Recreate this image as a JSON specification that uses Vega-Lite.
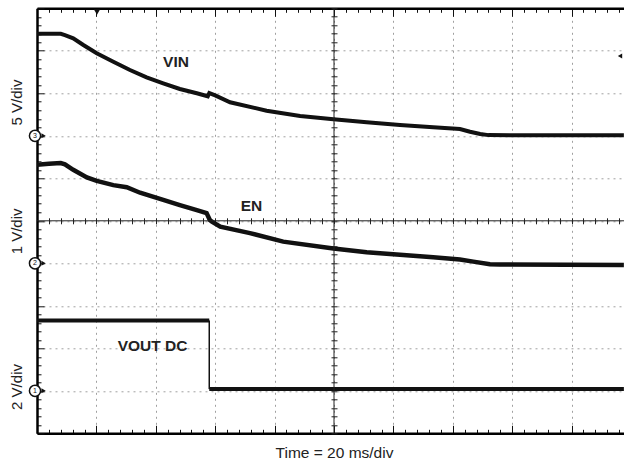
{
  "$schema": "https://vega.github.io/schema/vega-lite/v6.json",
  "width": 587,
  "height": 425,
  "autosize": "none",
  "padding": {"left": 37, "top": 8.3, "right": 0, "bottom": 30.7},
  "background": "white",
  "config": {"view": {"stroke": null}, "font": "Liberation Sans"},
  "resolve": {"scale": {"y": "independent"}, "axis": {"x": "independent", "y": "independent"}},
  "layer": [
    {
      "encoding": {
        "x": {"field": "t", "type": "quantitative", "scale": {"domain": [0, 197.64], "nice": false, "zero": false},
          "axis": {"orient": "bottom", "values": [0,4,8,12,16,20,24,28,32,36,40,44,48,52,56,60,64,68,72,76,80,84,88,92,96,100,104,108,112,116,120,124,128,132,136,140,144,148,152,156,160,164,168,172,176,180,184,188,192,196],
            "labels": false, "grid": true, "gridColor": "#a0a0a0", "gridDash": [2, 4], "gridWidth": 1,
            "gridOpacity": {"condition": {"test": "datum.value % 20 === 0", "value": 1}, "value": 0},
            "domain": true, "domainColor": "#000", "domainWidth": 2.5,
            "ticks": true, "tickColor": "#111", "tickWidth": 1,
            "tickSize": {"condition": {"test": "datum.value % 20 === 0", "value": -8}, "value": -4},
            "title": "Time = 20 ms/div", "titleFont": "Liberation Sans", "titleFontSize": 15.5, "titleFontWeight": "normal", "titleColor": "#222",
            "titleX": 297, "titleY": 24.5, "titleBaseline": "alphabetic", "titleAlign": "center"}},
        "y": {"field": "v", "type": "quantitative", "scale": {"domain": [-35, 15], "nice": false, "zero": false},
          "axis": {"orient": "left", "tickCount": 50, "labels": false, "grid": true, "gridColor": "#a0a0a0", "gridDash": [2, 4], "gridWidth": 1,
            "gridOpacity": {"condition": {"test": "datum.value % 5 === 0", "value": 1}, "value": 0},
            "domain": true, "domainColor": "#000", "domainWidth": 2.5,
            "ticks": true, "tickColor": "#111", "tickWidth": 1,
            "tickSize": {"condition": {"test": "datum.value % 5 === 0", "value": -7}, "value": -4},
            "title": null}}
      },
      "layer": [
        {"data": {"values": [{"t":0,"v":12.0},{"t":8.0,"v":12.0},{"t":9.4,"v":11.85},{"t":12.2,"v":11.47},{"t":15.6,"v":10.68},{"t":20.1,"v":9.71},{"t":25.7,"v":8.72},{"t":31.3,"v":7.74},{"t":36.9,"v":6.88},{"t":42.5,"v":6.18},{"t":48.1,"v":5.51},{"t":53.8,"v":5.0},{"t":57.5,"v":4.65},{"t":58.0,"v":5.02},{"t":60.0,"v":4.75},{"t":65.0,"v":3.95},{"t":77.3,"v":2.95},{"t":88.6,"v":2.33},{"t":99.8,"v":1.94},{"t":111.0,"v":1.59},{"t":122.2,"v":1.27},{"t":133.4,"v":1.0},{"t":142.4,"v":0.8},{"t":145.8,"v":0.48},{"t":149.2,"v":0.21},{"t":152.0,"v":0.08},{"t":197.6,"v":0.06}]},
         "mark": {"type": "line", "color": "#111", "strokeWidth": 4, "clip": true}},
        {"data": {"values": [{"t": 46.8, "v": 8.68, "label": "VIN"}]},
         "mark": {"type": "text", "font": "Liberation Sans", "fontSize": 15.5, "fontWeight": "bold", "color": "#222", "align": "center", "baseline": "middle"},
         "encoding": {"text": {"field": "label"}}},
        {"data": {"values": [{"t": -6.57, "v": 3.92, "label": "5 V/div"}]},
         "mark": {"type": "text", "font": "Liberation Sans", "fontSize": 15, "angle": 270, "color": "#222", "align": "center", "baseline": "middle"},
         "encoding": {"text": {"field": "label"}}},
        {"data": {"values": [{"t": 2.2, "v": 0}]},
         "mark": {"type": "point", "shape": "triangle-right", "size": 25, "filled": true, "color": "#111", "opacity": 1}},
        {"data": {"values": [{"t": -0.67, "v": 0}]},
         "mark": {"type": "point", "shape": "circle", "size": 125, "filled": true, "fill": "white", "stroke": "#111", "strokeWidth": 1.5, "opacity": 1}},
        {"data": {"values": [{"t": -0.67, "v": 0, "label": "3"}]},
         "mark": {"type": "text", "fontSize": 7, "color": "#111", "align": "center", "baseline": "middle"},
         "encoding": {"text": {"field": "label"}}},
        {"data": {"values": [{"t": 20.2, "v": 14.56}]},
         "mark": {"type": "point", "shape": "triangle-down", "size": 40, "filled": true, "color": "#111", "opacity": 1}},
        {"data": {"values": [{"t": 196.3, "v": 9.39}]},
         "mark": {"type": "point", "shape": "triangle-left", "size": 25, "filled": true, "color": "#111", "opacity": 1}}
      ]
    },
    {
      "encoding": {
        "x": {"field": "t", "type": "quantitative", "scale": {"domain": [0, 197.64], "nice": false, "zero": false},
          "axis": {"orient": "top", "values": [0,4,8,12,16,20,24,28,32,36,40,44,48,52,56,60,64,68,72,76,80,84,88,92,96,100,104,108,112,116,120,124,128,132,136,140,144,148,152,156,160,164,168,172,176,180,184,188,192,196],
            "labels": false, "grid": false, "domain": true, "domainColor": "#000", "domainWidth": 2.5,
            "ticks": true, "tickColor": "#111", "tickWidth": 1,
            "tickSize": {"condition": {"test": "datum.value % 20 === 0", "value": -8}, "value": -4},
            "title": null}},
        "y": {"field": "v", "type": "quantitative", "scale": {"domain": [-4, 6], "nice": false, "zero": false},
          "axis": {"orient": "left", "offset": -300, "tickCount": 50, "labels": false, "grid": false, "domain": false,
            "ticks": true, "tickColor": "#222", "tickWidth": 1, "tickSize": 6, "title": null}}
      },
      "layer": [
        {"data": {"values": [{"t":0,"v":2.32},{"t":4,"v":2.34},{"t":8.0,"v":2.36},{"t":9.4,"v":2.33},{"t":12.2,"v":2.2},{"t":16.8,"v":2.02},{"t":20.1,"v":1.94},{"t":25.7,"v":1.84},{"t":30.2,"v":1.79},{"t":34.7,"v":1.66},{"t":42.5,"v":1.49},{"t":48.1,"v":1.37},{"t":53.8,"v":1.25},{"t":57.1,"v":1.18},{"t":58.2,"v":1.02},{"t":58.9,"v":0.98},{"t":61.7,"v":0.86},{"t":71.7,"v":0.71},{"t":82.9,"v":0.51},{"t":99.8,"v":0.35},{"t":111.0,"v":0.26},{"t":122.2,"v":0.2},{"t":133.4,"v":0.14},{"t":142.4,"v":0.09},{"t":146.9,"v":0.04},{"t":152.5,"v":-0.02},{"t":155.9,"v":-0.03},{"t":197.6,"v":-0.04}]},
         "mark": {"type": "line", "color": "#111", "strokeWidth": 4.5, "clip": true}},
        {"data": {"values": [{"t": 72.2, "v": 1.36, "label": "EN"}]},
         "mark": {"type": "text", "font": "Liberation Sans", "fontSize": 15.5, "fontWeight": "bold", "color": "#222", "align": "center", "baseline": "middle"},
         "encoding": {"text": {"field": "label"}}},
        {"data": {"values": [{"t": -6.57, "v": 0.75, "label": "1 V/div"}]},
         "mark": {"type": "text", "font": "Liberation Sans", "fontSize": 15, "angle": 270, "color": "#222", "align": "center", "baseline": "middle"},
         "encoding": {"text": {"field": "label"}}},
        {"data": {"values": [{"t": 2.2, "v": 0}]},
         "mark": {"type": "point", "shape": "triangle-right", "size": 25, "filled": true, "color": "#111", "opacity": 1}},
        {"data": {"values": [{"t": -0.67, "v": 0}]},
         "mark": {"type": "point", "shape": "circle", "size": 125, "filled": true, "fill": "white", "stroke": "#111", "strokeWidth": 1.5, "opacity": 1}},
        {"data": {"values": [{"t": -0.67, "v": 0, "label": "2"}]},
         "mark": {"type": "text", "fontSize": 7, "color": "#111", "align": "center", "baseline": "middle"},
         "encoding": {"text": {"field": "label"}}}
      ]
    },
    {
      "encoding": {
        "x": {"field": "t", "type": "quantitative", "scale": {"domain": [0, 197.64], "nice": false, "zero": false},
          "axis": {"orient": "bottom", "offset": -215.5, "values": [0,4,8,12,16,20,24,28,32,36,40,44,48,52,56,60,64,68,72,76,80,84,88,92,96,100,104,108,112,116,120,124,128,132,136,140,144,148,152,156,160,164,168,172,176,180,184,188,192,196],
            "labels": false, "grid": false, "domain": false,
            "ticks": true, "tickColor": "#222", "tickWidth": 1, "tickSize": 6, "title": null}},
        "y": {"field": "v", "type": "quantitative", "scale": {"domain": [-2, 18], "nice": false, "zero": false}, "axis": null}
      },
      "layer": [
        {"data": {"values": [{"seg":"high","t":0,"v":3.31},{"seg":"high","t":58.0,"v":3.31},{"seg":"low","t":58.0,"v":0.08},{"seg":"low","t":197.6,"v":0.08}]},
         "mark": {"type": "line", "color": "#111", "strokeWidth": 4, "clip": true},
         "encoding": {"detail": {"field": "seg"}}},
        {"data": {"values": [{"t": 58.0, "v": 3.31, "v_low": 0.08}]},
         "mark": {"type": "rule", "color": "#111", "strokeWidth": 1.5},
         "encoding": {"y2": {"field": "v_low"}}},
        {"data": {"values": [{"t": 38.9, "v": 2.13, "label": "VOUT DC"}]},
         "mark": {"type": "text", "font": "Liberation Sans", "fontSize": 15.5, "fontWeight": "bold", "color": "#222", "align": "center", "baseline": "middle"},
         "encoding": {"text": {"field": "label"}}},
        {"data": {"values": [{"t": -6.57, "v": 0.18, "label": "2 V/div"}]},
         "mark": {"type": "text", "font": "Liberation Sans", "fontSize": 15, "angle": 270, "color": "#222", "align": "center", "baseline": "middle"},
         "encoding": {"text": {"field": "label"}}},
        {"data": {"values": [{"t": 2.2, "v": 0}]},
         "mark": {"type": "point", "shape": "triangle-right", "size": 25, "filled": true, "color": "#111", "opacity": 1}},
        {"data": {"values": [{"t": -0.67, "v": 0}]},
         "mark": {"type": "point", "shape": "circle", "size": 125, "filled": true, "fill": "white", "stroke": "#111", "strokeWidth": 1.5, "opacity": 1}},
        {"data": {"values": [{"t": -0.67, "v": 0, "label": "1"}]},
         "mark": {"type": "text", "fontSize": 7, "color": "#111", "align": "center", "baseline": "middle"},
         "encoding": {"text": {"field": "label"}}}
      ]
    },
    {
      "data": {"values": [{"t": 100}]},
      "mark": {"type": "rule", "color": "#222", "strokeWidth": 1},
      "encoding": {"x": {"field": "t", "type": "quantitative", "scale": {"domain": [0, 197.64], "nice": false, "zero": false}, "axis": null}}
    },
    {
      "data": {"values": [{"d": 5}]},
      "mark": {"type": "rule", "color": "#222", "strokeWidth": 1},
      "encoding": {"y": {"field": "d", "type": "quantitative", "scale": {"domain": [0, 10], "nice": false, "zero": false}, "axis": null}}
    }
  ]
}
